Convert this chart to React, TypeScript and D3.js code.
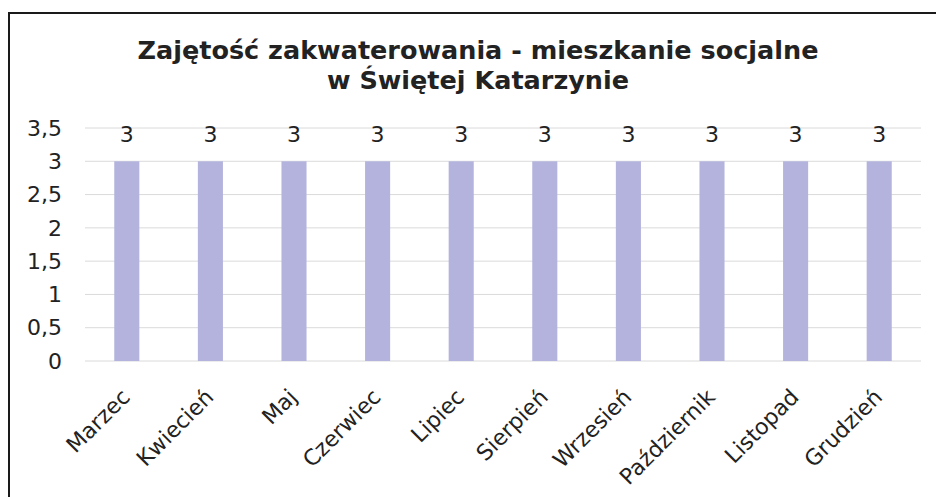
import React, { useEffect, useRef } from "react";
import * as d3 from "d3";

const months = [
  "Marzec",
  "Kwiecień",
  "Maj",
  "Czerwiec",
  "Lipiec",
  "Sierpień",
  "Wrzesień",
  "Październik",
  "Listopad",
  "Grudzień",
];
const occupancy = [3, 3, 3, 3, 3, 3, 3, 3, 3, 3];
const yTicks = [0, 0.5, 1, 1.5, 2, 2.5, 3, 3.5];
const titleLines = [
  "Zajętość zakwaterowania - mieszkanie socjalne",
  "w Świętej Katarzynie",
];

const W = 936;
const H = 497;

export default function App() {
  const svgRef = useRef<SVGSVGElement>(null);

  useEffect(() => {
    const svg = d3.select(svgRef.current);
    svg.selectAll("*").remove();

    const font = "'DejaVu Sans', Verdana, sans-serif";
    const margin = { top: 128, right: 15, bottom: 136, left: 85 };
    const plotW = W - margin.left - margin.right;
    const plotH = H - margin.top - margin.bottom;

    svg.append("rect").attr("width", W).attr("height", H).attr("fill", "#fff");

    // ramka wykresu
    svg
      .append("path")
      .attr("d", `M9,${H} V13 H${W}`)
      .attr("fill", "none")
      .attr("stroke", "#1a1a1a")
      .attr("stroke-width", 2);

    // tytuł
    svg
      .append("text")
      .attr("x", 478)
      .attr("y", 59)
      .attr("text-anchor", "middle")
      .attr("font-family", font)
      .attr("font-weight", "bold")
      .attr("font-size", 25.5)
      .attr("fill", "#222")
      .selectAll("tspan")
      .data(titleLines)
      .enter()
      .append("tspan")
      .attr("x", 478)
      .attr("dy", (d, i) => (i === 0 ? 0 : 30))
      .text((d) => d);

    const x = d3.scaleBand().domain(months).range([0, plotW]).paddingInner(0.7).paddingOuter(0.35);
    const y = d3.scaleLinear().domain([0, 3.5]).range([plotH, 0]);

    const g = svg
      .append("g")
      .attr("transform", `translate(${margin.left},${margin.top})`);

    // linie siatki
    g.selectAll(".grid")
      .data(yTicks)
      .enter()
      .append("line")
      .attr("x1", 0)
      .attr("x2", plotW)
      .attr("y1", (d) => y(d))
      .attr("y2", (d) => y(d))
      .attr("stroke", "#dadada")
      .attr("stroke-width", 1);

    // etykiety osi Y
    g.selectAll(".ytick")
      .data(yTicks)
      .enter()
      .append("text")
      .attr("x", -23)
      .attr("y", (d) => y(d))
      .attr("dy", "0.35em")
      .attr("text-anchor", "end")
      .attr("font-family", font)
      .attr("font-size", 22)
      .attr("fill", "#222")
      .text((d) => String(d).replace(".", ","));

    // słupki
    g.selectAll(".bar")
      .data(occupancy)
      .enter()
      .append("rect")
      .attr("x", (d, i) => x(months[i])!)
      .attr("y", (d) => y(d))
      .attr("width", x.bandwidth())
      .attr("height", (d) => plotH - y(d))
      .attr("fill", "#b3b3de");

    // etykiety wartości
    g.selectAll(".val")
      .data(occupancy)
      .enter()
      .append("text")
      .attr("x", (d, i) => x(months[i])! + x.bandwidth() / 2)
      .attr("y", (d) => y(d) - 19)
      .attr("text-anchor", "middle")
      .attr("font-family", font)
      .attr("font-size", 22)
      .attr("fill", "#222")
      .text((d) => String(d));

    // etykiety osi X
    g.selectAll(".xlab")
      .data(months)
      .enter()
      .append("text")
      .attr(
        "transform",
        (d) => `translate(${x(d)! + x.bandwidth() / 2 - 1},${plotH + 32}) rotate(-45)`
      )
      .attr("dy", "0.35em")
      .attr("text-anchor", "end")
      .attr("font-family", font)
      .attr("font-size", 22)
      .attr("fill", "#222")
      .text((d) => d);
  }, []);

  return (
    <svg
      ref={svgRef}
      width={W}
      height={H}
      style={{ position: "absolute", left: 0, top: 0 }}
    />
  );
}
